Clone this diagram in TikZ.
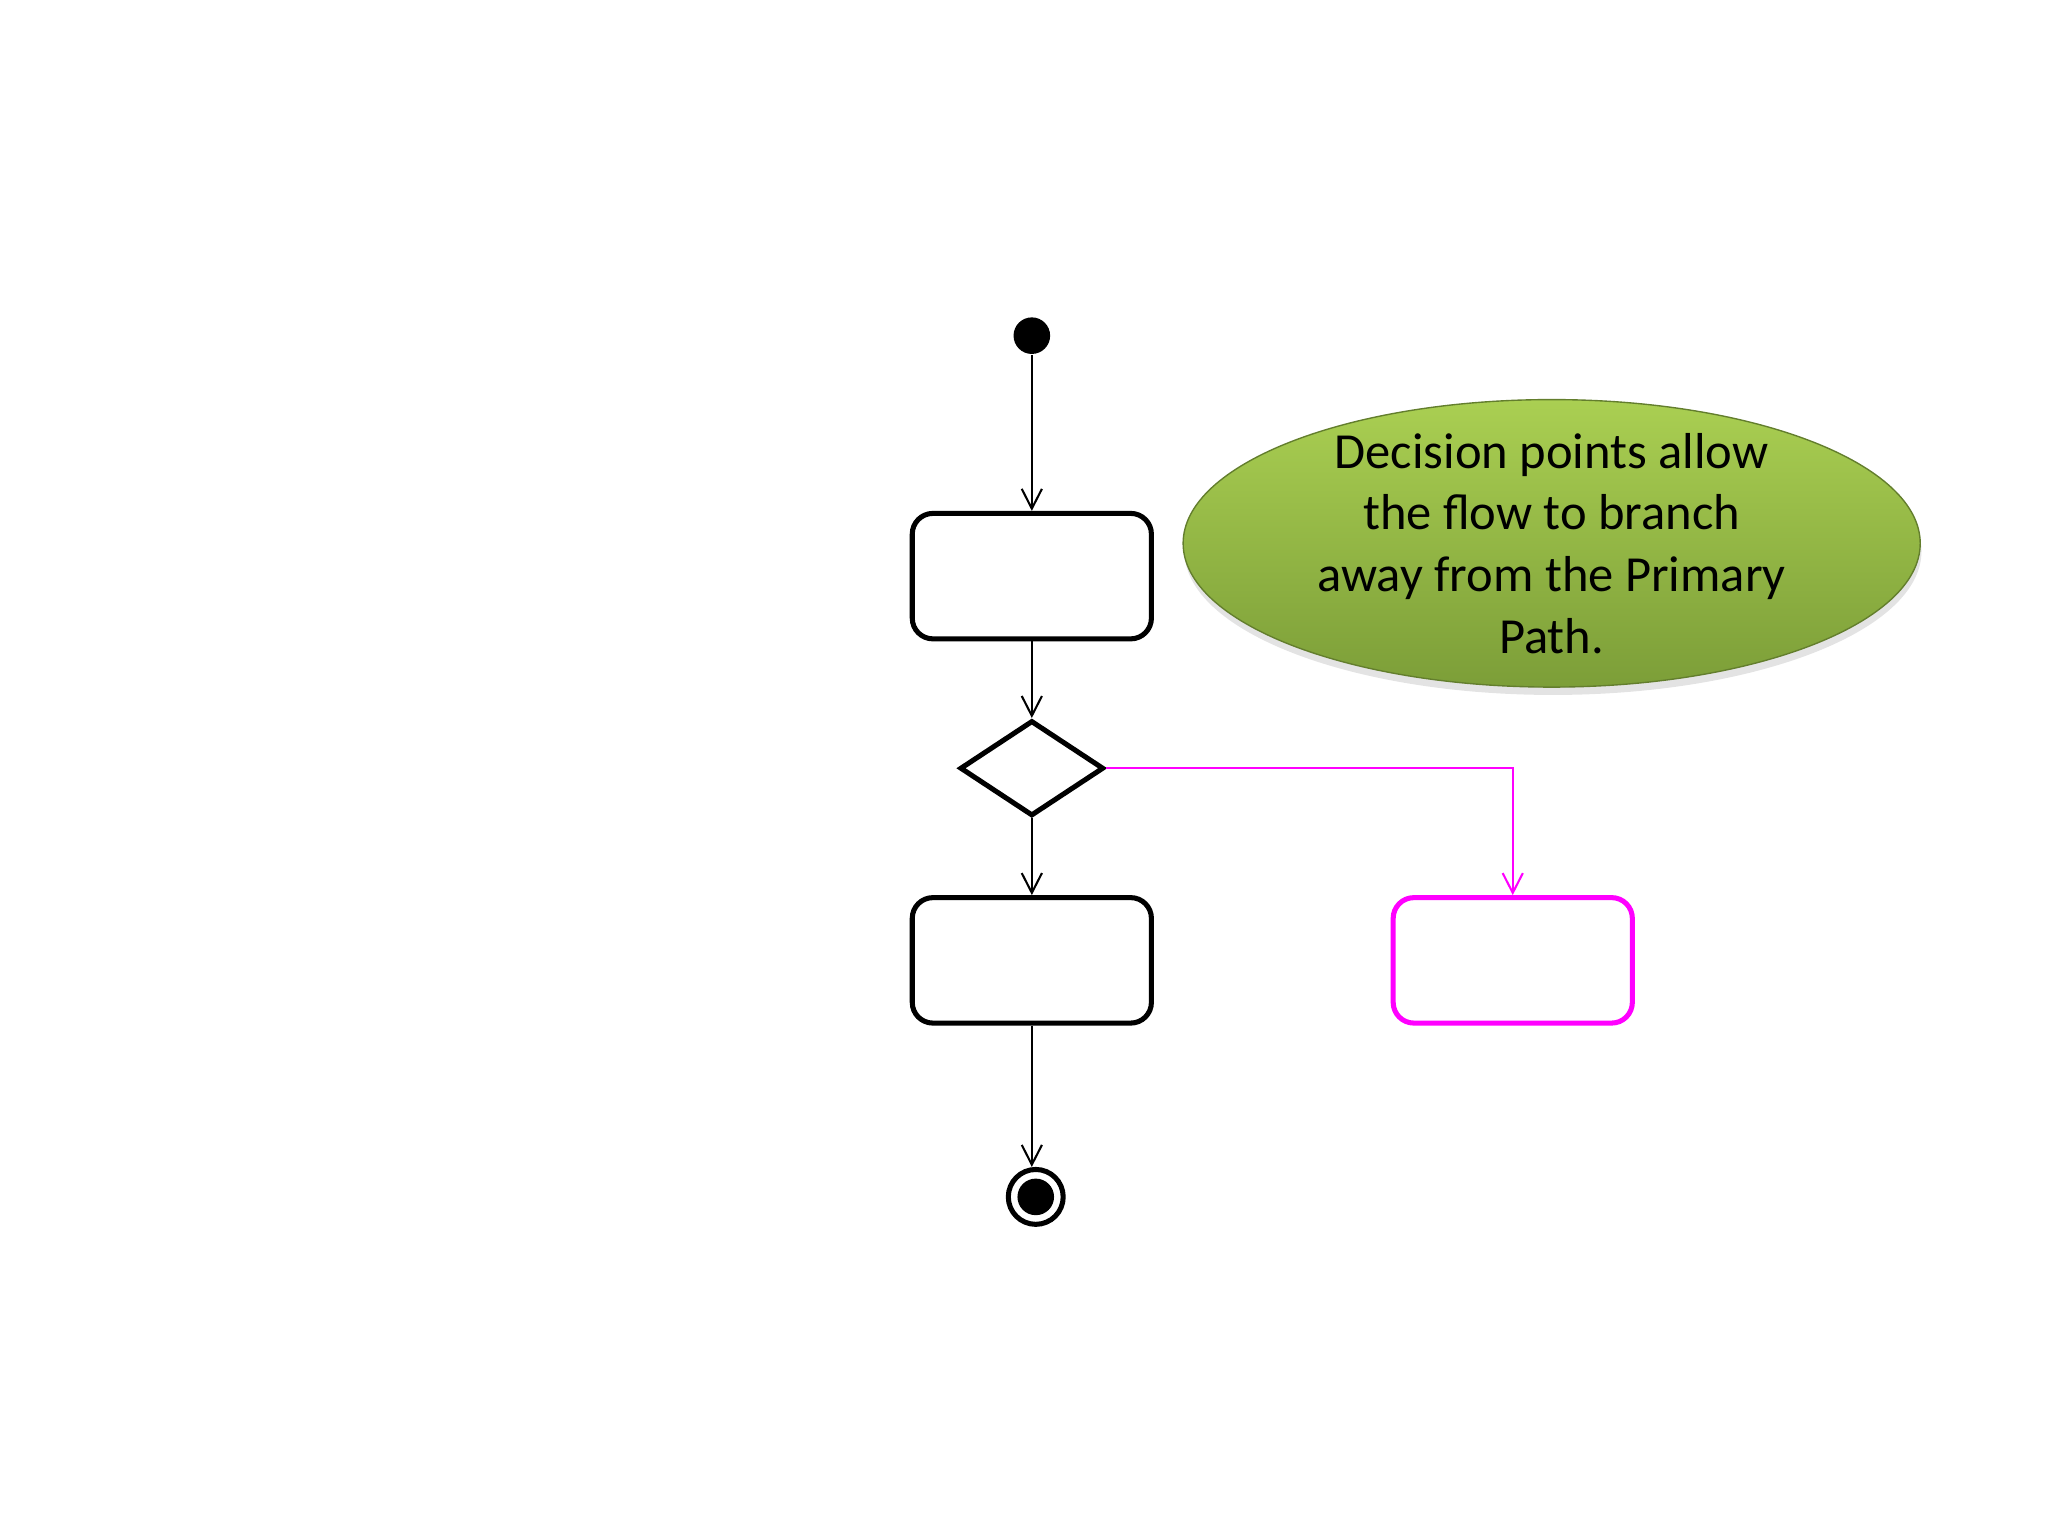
\documentclass[tikz,border=0pt]{standalone}
\usepackage{fontspec}
\setmainfont{Carlito}
\usetikzlibrary{
    arrows.meta, % open arrow tips
    positioning, % relative placement of the activity nodes
    shapes.geometric, % diamond and ellipse
    shadows % shadow under the callout
}
\definecolor{calloutlight}{HTML}{AACF52}
\definecolor{calloutdark}{HTML}{7C9E38}
\definecolor{branch}{HTML}{FF00FF}

\begin{document}
\begin{tikzpicture}[
    x=0.01cm,y=-0.01cm,
    node distance=1.47cm,on grid,>={Straight Barb[length=4.3pt,width=4.4pt]},
    flow/.style         = {->,line width=0.45pt},
    activity/.style     = {draw,rounded corners=4.5pt,line width=1.1pt,minimum width=1.83cm,minimum height=0.96cm,fill=white},
    alt activity/.style = {activity,draw=branch},
    decision/.style     = {draw,diamond,line width=1.1pt,inner sep=0pt,minimum width=1.1cm,minimum height=0.73cm},
    initial/.style      = {circle,fill,inner sep=0pt,minimum size=0.28cm},
    final/.style        = {circle,draw,line width=1.1pt,inner sep=0pt,minimum size=0.42cm,
                           path picture={\fill (path picture bounding box.center) circle (0.14cm);}},
    callout/.style      = {ellipse,inner sep=0pt,minimum width=5.64cm,minimum height=2.2cm,
                           top color=calloutlight,bottom color=calloutdark,draw=calloutdark!80!black,line width=0.3pt,
                           drop shadow={shadow xshift=0.01cm,shadow yshift=-0.06cm,opacity=0.22}},
    note text/.style    = {align=center,font=\fontsize{11pt}{13.4pt}\selectfont}
]
\useasboundingbox (0,0) rectangle (1568,1176);

% primary path

    \node [initial]  (start) at (790,257)                    {};
    \node [activity] (act1)  [below=1.84cm of start]         {};
    \node [decision] (dec)   [below=of act1]                 {};
    \node [activity] (act2)  [below=of dec]                  {};
    \node [final]    (stop)  [below=1.81cm of act2,xshift=0.03cm] {};

% branch away from it

    \node [alt activity] (alt) [right=3.68cm of act2] {};

    \draw [flow] (start) -- (act1);
    \draw [flow] (act1) -- (dec);
    \draw [flow] (dec) -- (act2);
    \draw [flow] (act2) -- (stop.north -| act2);
    \draw [flow,branch] (dec.east) -| (alt.north);

% note

    \node [callout]   (note) at (1188,416) {};
    \node [note text] (note label) at (note) {Decision points allow\\the flow to branch\\away from the Primary\\Path.};

\end{tikzpicture}
\end{document}
